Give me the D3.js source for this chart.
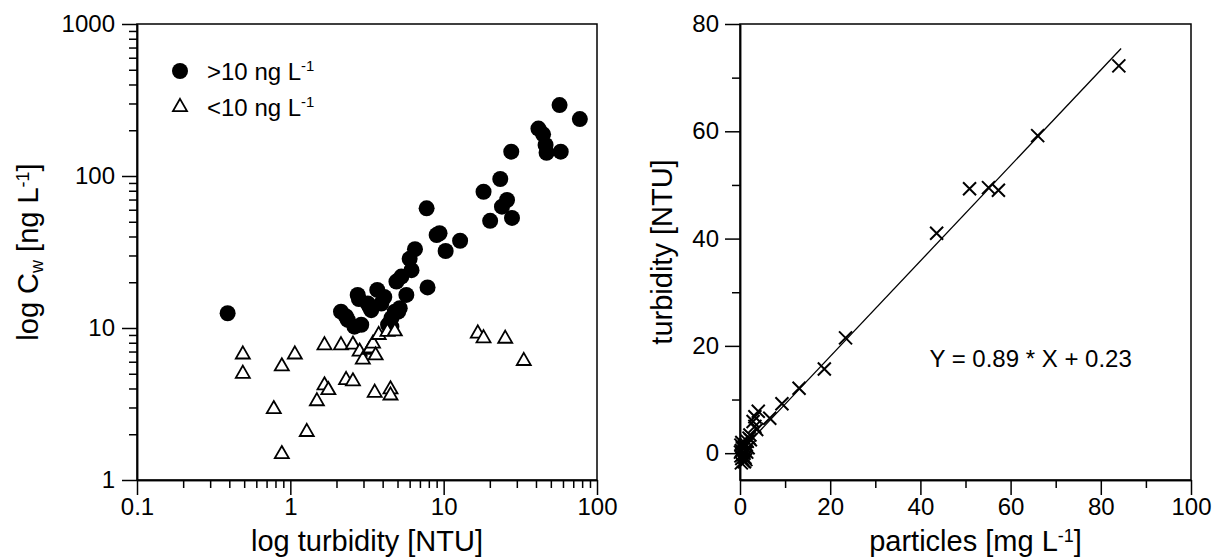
<!DOCTYPE html>
<html>
<head>
<meta charset="utf-8">
<script src="https://cdn.jsdelivr.net/npm/d3@7"></script>
<style>
  body { margin: 0; background: #fff; }
</style>
</head>
<body>
<div id="chart"></div>
<script>
// left panel: turbidity [NTU] vs C_w [ng/L]
const above10 = [ // >10 ng L-1, filled circles
  [0.39, 12.5], [2.14, 12.8], [2.31, 11.9], [2.37, 11.3], [2.62, 10.2], [2.9, 10.5],
  [2.75, 16.5], [2.8, 15.5], [3.2, 14.5], [3.37, 13.1], [3.29, 13.8], [3.69, 17.8],
  [3.92, 14.5], [4.1, 16], [4.34, 10.5], [4.56, 11.6], [4.56, 10.2], [4.8, 12.8],
  [5.05, 12.8], [5.17, 13.5], [4.92, 20.2], [5.3, 21.8], [5.71, 16.5], [6.0, 28.5],
  [6.17, 24], [6.5, 33], [7.85, 18.5], [7.74, 61.3], [9.0, 40.9], [9.4, 42],
  [10.3, 32.1], [12.8, 37.5], [18.2, 78.8], [20.1, 50.7], [23.4, 95.6], [24, 62.8],
  [25.9, 69.5], [27.9, 53], [27.6, 144.5], [41.5, 205], [44.5, 188], [46.2, 160],
  [46.9, 142], [58, 144.5], [57, 293], [77.3, 237]
];
const below10 = [ // <10 ng L-1, open triangles
  [0.49, 6.7], [0.49, 5.0], [0.78, 2.93], [0.88, 5.6], [0.88, 1.48], [1.07, 6.7],
  [1.28, 2.07], [1.49, 3.3], [1.67, 7.7], [1.67, 4.2], [1.77, 3.9], [2.14, 7.7],
  [2.31, 4.55], [2.56, 4.46], [2.56, 7.77], [2.83, 7.0], [2.97, 6.2], [3.28, 7.2],
  [3.33, 7.35], [3.46, 7.9], [3.6, 6.6], [3.55, 3.75], [3.77, 9.0], [4.5, 3.95],
  [4.5, 3.6], [4.3, 9.45], [4.8, 9.5], [16.7, 9.2], [18.2, 8.56], [25.2, 8.5],
  [33.3, 6.07]
];
const logXTicks = [0.1, 1, 10, 100];
const logYTicks = [1, 10, 100, 1000];

// right panel: particles [mg/L] vs turbidity [NTU]
const particles = [
  84, 66, 57.3, 55.1, 50.9, 43.6, 23.4, 18.7, 13.1, 9.3, 6.6, 4.05, 3.3, 2.9, 3.3,
  3.7, 2.2, 2.3, 2.0, 1.8, 1.6, 1.5, 1.4, 1.3, 1.2, 1.1, 1.0, 1.0, 0.9, 0.8, 0.7,
  0.6, 0.5, 0.4, 0.4, 0.3, 0.3, 0.2, 0.2, 0.1
];
const turbidity = [
  72.2, 59.2, 49.0, 49.5, 49.3, 41.0, 21.5, 15.7, 12.1, 9.2, 6.5, 7.8, 6.8, 5.9, 5.0,
  4.4, 3.4, 2.5, 2.8, 1.0, 2.2, 0.2, 1.6, -1.2, 0.4, -0.8, 1.2, -1.6, 0.0, -1.5, 0.8,
  -0.3, 1.0, -1.0, 2.0, 0.5, -1.8, -0.5, 1.5, 0.2
];
const fitSlope = 0.89, fitIntercept = 0.23;
const fitRange = [0, 84.5];
const xTicksLin = [0, 20, 40, 60, 80, 100];
const yTicksLin = [0, 20, 40, 60, 80];

const width = 1226, height = 560;
const font = "'Liberation Sans', Arial, sans-serif";

const svg = d3.select("#chart").append("svg")
    .attr("width", width)
    .attr("height", height)
    .attr("viewBox", [0, 0, width, height])
    .attr("font-family", font);

// ---------- left panel ----------
const xL = d3.scaleLog([0.1, 100], [137, 597]);
const yL = d3.scaleLog([1, 1000], [480, 24]);

const minorLog = (lo, hi) => d3.range(Math.log10(lo), Math.log10(hi))
    .flatMap(e => d3.range(2, 10).map(k => k * Math.pow(10, e)));

function styleAxis(g) {
  g.select(".domain").attr("stroke-width", 1.5);
  g.selectAll(".tick line").attr("stroke-width", 1.5);
  g.selectAll(".tick text").attr("font-size", 24).attr("fill", "#000");
}

// super/subscript: dy in px, each tspan undoes the previous shift
function richText(sel, parts) {
  let cur = 0;
  parts.forEach(([str, kind]) => {
    const target = kind === "sup" ? -9 : kind === "sub" ? 5 : 0;
    sel.append("tspan")
        .attr("dy", target - cur)
        .attr("font-size", kind ? "0.62em" : null)
        .text(str);
    cur = target;
  });
}

// minor ticks
svg.append("g").attr("transform", "translate(0,480)")
    .call(d3.axisBottom(xL).tickValues(minorLog(0.1, 100)).tickSize(8).tickSizeOuter(0).tickFormat(""))
    .call(styleAxis);
svg.append("g").attr("transform", "translate(137,0)")
    .call(d3.axisLeft(yL).tickValues(minorLog(1, 1000)).tickSize(8).tickSizeOuter(0).tickFormat(""))
    .call(styleAxis);
// major ticks
svg.append("g").attr("transform", "translate(0,480)")
    .call(d3.axisBottom(xL).tickValues(logXTicks).tickSize(15).tickPadding(3).tickSizeOuter(0).tickFormat(d => String(d)))
    .call(styleAxis);
svg.append("g").attr("transform", "translate(137,0)")
    .call(d3.axisLeft(yL).tickValues(logYTicks).tickSize(15).tickPadding(7).tickSizeOuter(0).tickFormat(d => String(d)))
    .call(styleAxis);

svg.append("rect")
    .attr("x", xL.range()[0]).attr("y", yL.range()[1])
    .attr("width", xL.range()[1] - xL.range()[0])
    .attr("height", yL.range()[0] - yL.range()[1])
    .attr("fill", "none").attr("stroke", "#000").attr("stroke-width", 1.5);

svg.append("g").selectAll("circle")
  .data(above10)
  .join("circle")
    .attr("cx", d => xL(d[0]))
    .attr("cy", d => yL(d[1]))
    .attr("r", 8)
    .attr("fill", "#000");

const tri = d3.symbol(d3.symbolTriangle, 85);
svg.append("g").selectAll("path")
  .data(below10)
  .join("path")
    .attr("transform", d => `translate(${xL(d[0])},${yL(d[1])})`)
    .attr("d", tri)
    .attr("fill", "#fff")
    .attr("stroke", "#000")
    .attr("stroke-width", 1.8);

// legend
const legend = svg.append("g").attr("font-size", 24);
legend.append("circle").attr("cx", 180).attr("cy", 71).attr("r", 8).attr("fill", "#000");
legend.append("path").attr("transform", "translate(180,107)").attr("d", tri)
    .attr("fill", "#fff").attr("stroke", "#000").attr("stroke-width", 1.8);
[[">10 ng L", 71], ["<10 ng L", 107]].forEach(([t, y]) => {
  const tx = legend.append("text").attr("x", 207).attr("y", y + 8.5);
  richText(tx, [[t], ["-1", "sup"]]);
});

// axis titles
svg.append("text")
    .attr("x", d3.mean(xL.range())).attr("y", 551)
    .attr("text-anchor", "middle").attr("font-size", 29)
    .text("log turbidity [NTU]");

const yTitleL = svg.append("text")
    .attr("transform", `translate(38,${d3.mean(yL.range())}) rotate(-90)`)
    .attr("text-anchor", "middle").attr("font-size", 29);
richText(yTitleL, [["log C"], ["w", "sub"], [" [ng L"], ["-1", "sup"], ["]"]]);

// ---------- right panel ----------
const xR = d3.scaleLinear([0, 100], [740, 1191]);
const yR = d3.scaleLinear([-5, 80], [480, 24]);

svg.append("g").attr("transform", "translate(0,480)")
    .call(d3.axisBottom(xR).tickValues(d3.range(10, 100, 20)).tickSize(8).tickSizeOuter(0).tickFormat(""))
    .call(styleAxis);
svg.append("g").attr("transform", "translate(740,0)")
    .call(d3.axisLeft(yR).tickValues(d3.range(10, 80, 20)).tickSize(8).tickSizeOuter(0).tickFormat(""))
    .call(styleAxis);
svg.append("g").attr("transform", "translate(0,480)")
    .call(d3.axisBottom(xR).tickValues(xTicksLin).tickSize(15).tickPadding(3).tickSizeOuter(0))
    .call(styleAxis);
svg.append("g").attr("transform", "translate(740,0)")
    .call(d3.axisLeft(yR).tickValues(yTicksLin).tickSize(15).tickPadding(6).tickSizeOuter(0))
    .call(styleAxis);

svg.append("rect")
    .attr("x", xR.range()[0]).attr("y", yR.range()[1])
    .attr("width", xR.range()[1] - xR.range()[0])
    .attr("height", yR.range()[0] - yR.range()[1])
    .attr("fill", "none").attr("stroke", "#000").attr("stroke-width", 1.5);

// regression line
svg.append("path")
    .datum(fitRange)
    .attr("fill", "none").attr("stroke", "#000").attr("stroke-width", 1.3)
    .attr("d", d3.line(d => xR(d), d => yR(fitSlope * d + fitIntercept)));

// crosses
const crossPath = (cx, cy, r) => {
  const p = d3.path();
  p.moveTo(cx - r, cy - r); p.lineTo(cx + r, cy + r);
  p.moveTo(cx - r, cy + r); p.lineTo(cx + r, cy - r);
  return p.toString();
};
svg.append("g").selectAll("path")
  .data(d3.zip(particles, turbidity))
  .join("path")
    .attr("d", d => crossPath(xR(d[0]), yR(d[1]), 6.5))
    .attr("fill", "none")
    .attr("stroke", "#000")
    .attr("stroke-width", 2);

svg.append("text")
    .attr("x", xR(42)).attr("y", yR(16))
    .attr("font-size", 24)
    .text(`Y = ${fitSlope} * X + ${fitIntercept}`);

const xTitleR = svg.append("text")
    .attr("x", d3.mean(xR.range()) + 10).attr("y", 551)
    .attr("text-anchor", "middle").attr("font-size", 29);
richText(xTitleR, [["particles [mg L"], ["-1", "sup"], ["]"]]);

svg.append("text")
    .attr("transform", `translate(672,${d3.mean(yR.range())}) rotate(-90)`)
    .attr("text-anchor", "middle").attr("font-size", 29)
    .text("turbidity [NTU]");
</script>
</body>
</html>
